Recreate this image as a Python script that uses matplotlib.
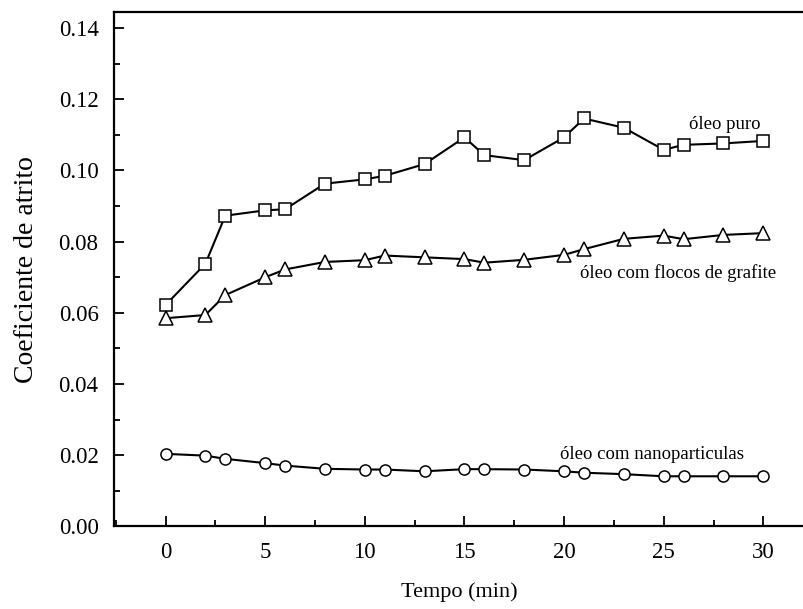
import matplotlib
matplotlib.use("Agg")
import matplotlib.pyplot as plt
from matplotlib.ticker import MultipleLocator

# tempo (min)
tempo = [0, 2, 3, 5, 6, 8, 10, 11, 13, 15, 16, 18, 20, 21, 23, 25, 26, 28, 30]

oleo_puro = [0.0622, 0.0738, 0.0873, 0.0888, 0.0891, 0.0963, 0.0975, 0.0985, 0.1018,
             0.1093, 0.1043, 0.1029, 0.1093, 0.1146, 0.1120, 0.1058, 0.1072, 0.1076, 0.1083]
oleo_grafite = [0.0585, 0.0594, 0.0650, 0.0700, 0.0722, 0.0743, 0.0748, 0.0761, 0.0756,
                0.0751, 0.0741, 0.0749, 0.0763, 0.0779, 0.0808, 0.0817, 0.0807, 0.0819, 0.0824]
oleo_nano = [0.0204, 0.0199, 0.0190, 0.0178, 0.0171, 0.0162, 0.0160, 0.0160, 0.0155,
             0.0161, 0.0161, 0.0160, 0.0155, 0.0151, 0.0147, 0.0141, 0.0141, 0.0141, 0.0141]

plt.rcParams['font.family'] = ['Liberation Serif', 'DejaVu Serif']

fig = plt.figure(figsize=(8.04, 6.09), dpi=100)
ax = fig.add_axes([0.1424, 0.1355, 0.8576, 0.8453])

style = dict(color='black', lw=1.5, mfc='white', mec='black', mew=1.1)
ax.plot(tempo, oleo_puro, marker='s', ms=8.5, **style)
ax.plot(tempo, oleo_grafite, marker='^', ms=9.5, **style)
ax.plot(tempo, oleo_nano, marker='o', ms=8, **style)

# rotulos das curvas
ax.text(26.27, 0.1128, 'óleo puro', fontsize=13.5, va='center', ha='left')
ax.text(20.8, 0.0712, 'óleo com flocos de grafite', fontsize=13.5, va='center', ha='left')
ax.text(19.79, 0.0201, 'óleo com nanoparticulas', fontsize=13.5, va='center', ha='left')

ax.set_xlim(-2.56, 32.04)
ax.set_ylim(0, 0.1446)
ax.xaxis.set_major_locator(MultipleLocator(5))
ax.xaxis.set_minor_locator(MultipleLocator(2.5))
ax.yaxis.set_major_locator(MultipleLocator(0.02))
ax.yaxis.set_minor_locator(MultipleLocator(0.01))
ax.yaxis.set_major_formatter(plt.FormatStrFormatter('%.2f'))

ax.tick_params(which='major', direction='in', length=7.5, width=1.3, labelsize=16.5)
ax.tick_params(axis='x', which='major', pad=11)
ax.tick_params(axis='y', which='major', pad=11.5)
ax.tick_params(which='minor', direction='in', length=4.5, width=1.3)
ax.tick_params(top=False, right=False, which='both')
for s in ['left', 'bottom', 'top']:
    ax.spines[s].set_linewidth(1.6)
ax.spines['right'].set_visible(False)

ax.set_xlabel('Tempo (min)', fontsize=16, labelpad=14)
ax.set_ylabel('Coeficiente de atrito', fontsize=20, labelpad=14)

fig.savefig('out.png', dpi=100)
